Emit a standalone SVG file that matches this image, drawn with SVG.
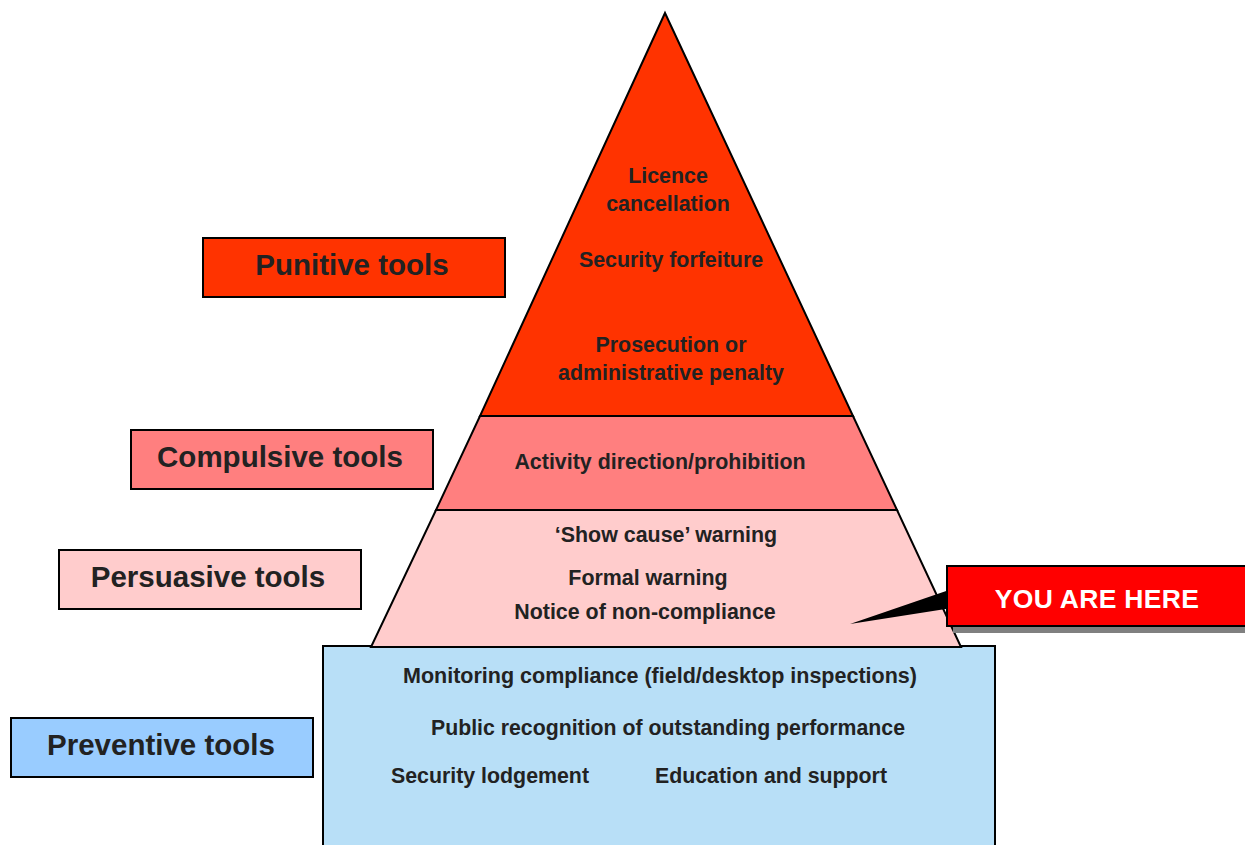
<svg xmlns="http://www.w3.org/2000/svg" width="1245" height="845" viewBox="0 0 1245 845">
<style>
.shape{stroke:#000;stroke-width:2;stroke-linejoin:miter}
.lbl{font-family:"Liberation Sans",Arial,sans-serif;font-weight:bold;font-size:29.5px;fill:#222;text-anchor:middle}
.t{font-family:"Liberation Sans",Arial,sans-serif;font-weight:bold;font-size:21.4px;fill:#222;text-anchor:middle}
.here{font-family:"Liberation Sans",Arial,sans-serif;font-weight:bold;font-size:26.5px;fill:#fff;text-anchor:middle;letter-spacing:0.3px}
</style>
<rect width="1245" height="845" fill="#fff"/>
<g id="preventive-layer">
<rect class="shape" x="323" y="646" width="672" height="210" fill="#B8DFF7"/>
<text class="t" x="660" y="683" textLength="514" lengthAdjust="spacingAndGlyphs">Monitoring compliance (field/desktop inspections)</text>
<text class="t" x="668" y="735" textLength="474" lengthAdjust="spacingAndGlyphs">Public recognition of outstanding performance</text>
<text class="t" x="490" y="783" textLength="198" lengthAdjust="spacingAndGlyphs">Security lodgement</text>
<text class="t" x="771" y="783" textLength="232" lengthAdjust="spacingAndGlyphs">Education and support</text>
</g>
<g id="persuasive-layer">
<polygon class="shape" points="436,510 897,510 961,647 371,647" fill="#FFCCCC"/>
<text class="t" x="666" y="542">‘Show cause’ warning</text>
<text class="t" x="648" y="585">Formal warning</text>
<text class="t" x="645" y="619">Notice of non-compliance</text>
</g>
<g id="compulsive-layer">
<polygon class="shape" points="480,416 853,416 897,510 436,510" fill="#FF7F7F"/>
<text class="t" x="660" y="469">Activity direction/prohibition</text>
</g>
<g id="punitive-layer">
<polygon class="shape" points="665,13 853,416 480,416" fill="#FF3300"/>
<text class="t" x="668" y="183">Licence</text>
<text class="t" x="668" y="211">cancellation</text>
<text class="t" x="671" y="267">Security forfeiture</text>
<text class="t" x="671" y="352">Prosecution or</text>
<text class="t" x="671" y="380">administrative penalty</text>
</g>
<g id="label-punitive">
<rect class="shape" x="203" y="238" width="302" height="59" fill="#FF3300"/>
<text class="lbl" x="352" y="275">Punitive tools</text>
</g>
<g id="label-compulsive">
<rect class="shape" x="131" y="430" width="302" height="59" fill="#FF7F7F"/>
<text class="lbl" x="280" y="467">Compulsive tools</text>
</g>
<g id="label-persuasive">
<rect class="shape" x="59" y="550" width="302" height="59" fill="#FFCCCC"/>
<text class="lbl" x="208" y="587">Persuasive tools</text>
</g>
<g id="label-preventive">
<rect class="shape" x="11" y="718" width="302" height="59" fill="#99CCFF"/>
<text class="lbl" x="161" y="755">Preventive tools</text>
</g>
<g id="connectors">
<polygon points="850,624 952,589 952,608" fill="#000"/>
</g>
<g id="you-are-here">
<rect x="953" y="572" width="300" height="61" fill="#808080"/>
<rect class="shape" x="947" y="566" width="305" height="60" fill="#FF0000"/>
<text class="here" x="1097" y="608">YOU ARE HERE</text>
</g>
</svg>
